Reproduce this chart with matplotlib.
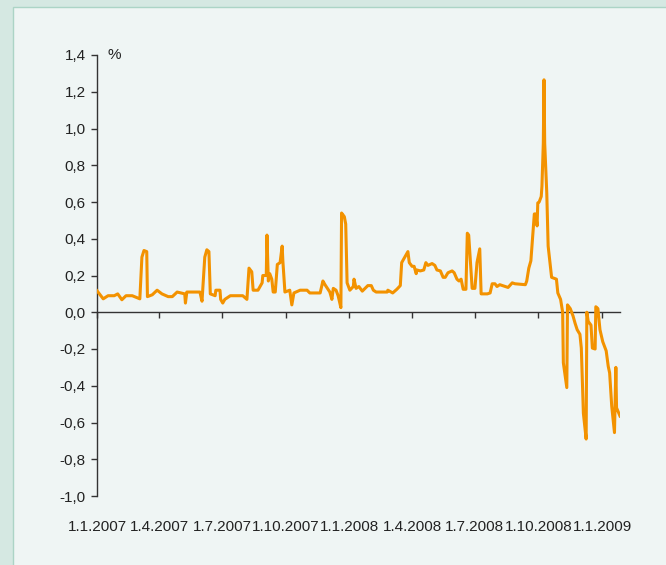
import matplotlib
matplotlib.use("Agg")
import matplotlib.pyplot as plt
from matplotlib.patches import Rectangle
import pandas as pd

plt.rcParams['font.family'] = ['Liberation Sans', 'DejaVu Sans']

# Data: days since 1.1.2007 and value in %
days = [0, 9, 16, 25, 30, 36, 42, 51, 62, 65, 68, 72, 73, 80, 87, 94, 103, 109, 116,
        127, 128, 130, 149, 152, 156, 159, 162, 164, 171, 172, 178, 179, 182, 185, 193,
        211, 217, 220, 224, 226, 233, 239, 240, 245, 246, 248, 250, 253, 255, 258, 261,
        265, 268, 269, 272, 279, 282, 285, 294, 304, 308, 323, 327, 330, 337, 340, 342,
        346, 349, 353, 354, 358, 360, 362, 366, 371, 372, 375, 379, 384, 388, 392, 397,
        400, 404, 420, 421, 428, 434, 439, 441, 444, 450, 452, 456, 459, 462, 463, 468,
        473, 476, 479, 485, 489, 492, 497, 501, 504, 508, 514, 517, 521, 524, 527, 530,
        534, 536, 538, 543, 547, 550, 554, 556, 565, 569, 572, 576, 579, 583, 595, 601,
        605, 620, 622, 625, 628, 631, 633, 635, 637, 638, 640, 643, 644, 646, 647, 648,
        651, 653, 656, 658, 665, 667, 671, 674, 675, 680, 681, 685, 689, 692, 695, 699,
        701, 704, 708, 709, 711, 715, 717, 721, 722, 725, 728, 732, 737, 740, 742, 745,
        749, 751, 752, 757]
values = [0.117, 0.073, 0.09, 0.09, 0.10, 0.068, 0.09, 0.09, 0.073, 0.30, 0.336, 0.33,
          0.085, 0.095, 0.12, 0.10, 0.085, 0.085, 0.11,
          0.10, 0.05, 0.11, 0.11, 0.06, 0.30, 0.34, 0.33, 0.10, 0.09, 0.12, 0.12, 0.07,
          0.05, 0.07, 0.09,
          0.09, 0.07, 0.24, 0.22, 0.12, 0.12, 0.16, 0.20, 0.20, 0.42, 0.17, 0.21, 0.18,
          0.11, 0.11, 0.26,
          0.27, 0.36, 0.28, 0.11, 0.12, 0.04, 0.105, 0.12, 0.12, 0.105, 0.105, 0.17, 0.15,
          0.11, 0.07, 0.13,
          0.12, 0.09, 0.025, 0.54, 0.52, 0.48, 0.16, 0.12, 0.14, 0.18, 0.13, 0.14, 0.115,
          0.13, 0.145, 0.145,
          0.12, 0.11, 0.11, 0.12, 0.105, 0.125, 0.145, 0.27, 0.29, 0.33, 0.27, 0.25, 0.25,
          0.21, 0.23, 0.225,
          0.23, 0.27, 0.255, 0.265, 0.255, 0.23, 0.225, 0.19, 0.19, 0.215, 0.225, 0.215,
          0.18, 0.17, 0.18, 0.125,
          0.125, 0.43, 0.42, 0.13, 0.13, 0.27, 0.345, 0.10, 0.10, 0.105, 0.155, 0.155,
          0.14, 0.15, 0.135, 0.16,
          0.155, 0.15, 0.17, 0.24, 0.28, 0.43, 0.535, 0.535, 0.47, 0.595, 0.60, 0.63,
          0.685, 0.92, 1.265, 0.92,
          0.65, 0.36, 0.26, 0.19, 0.18, 0.105, 0.07, 0.0, -0.275, -0.41, 0.04, 0.02,
          -0.02, -0.06, -0.095, -0.12,
          -0.195, -0.55, -0.69, 0.0, -0.05, -0.07, -0.195, -0.20, 0.03, 0.02, -0.095,
          -0.16, -0.21, -0.295, -0.33, -0.51,
          -0.655, -0.30, -0.52, -0.565]

tick_dates = ['2007-01-01', '2007-04-01', '2007-07-01', '2007-10-01', '2008-01-01',
              '2008-04-01', '2008-07-01', '2008-10-01', '2009-01-01']
tick_labels = ['1.1.2007', '1.4.2007', '1.7.2007', '1.10.2007', '1.1.2008',
               '1.4.2008', '1.7.2008', '1.10.2008', '1.1.2009']
y_ticks = [1.4, 1.2, 1.0, 0.8, 0.6, 0.4, 0.2, 0.0, -0.2, -0.4, -0.6, -0.8, -1.0]

start = pd.Timestamp('2007-01-01')
dates = [start + pd.Timedelta(days=d) for d in days]

fig = plt.figure(figsize=(6.66, 5.65), dpi=100)
fig.patch.set_facecolor('#d5e8e2')
panel = Rectangle((13/666, -0.05), 1.1, 1.05 - 7/565, transform=fig.transFigure,
                  facecolor='#eff5f4', edgecolor='#acd4c6', linewidth=1.0, zorder=-10)
fig.add_artist(panel)

ax = fig.add_axes([97/666, 1 - 496/565, (620 - 97)/666, (496 - 55)/565])
ax.set_zorder(5)
ax.set_facecolor('none')
ax.plot(dates, values, color='#f39200', linewidth=2.2, solid_joinstyle='round', zorder=3)

ax.set_ylim(-1.0, 1.4)
ax.set_xlim(start, start + pd.Timedelta(days=757))
ax.set_yticks(y_ticks)
ax.set_yticklabels([f"{v:.1f}".replace('.', ',') for v in y_ticks])

for s in ['top', 'right']:
    ax.spines[s].set_visible(False)
ax.spines['bottom'].set_position(('data', 0))
ax.spines['bottom'].set_color('#333333')
ax.spines['left'].set_color('#333333')
ax.spines['bottom'].set_linewidth(1.0)
ax.spines['left'].set_linewidth(1.0)

tds = [pd.Timestamp(t) for t in tick_dates]
ax.set_xticks(tds)
ax.set_xticklabels([])
ax.tick_params(axis='x', direction='out', length=4, width=1, color='#333333')
ax.tick_params(axis='y', direction='out', length=4, width=1, color='#333333',
               labelsize=11, labelcolor='#222222', pad=4)

sec = ax.secondary_xaxis('bottom')
sec.set_xticks(tds)
sec.set_xticklabels(tick_labels)
sec.tick_params(length=0, pad=17, labelsize=11, labelcolor='#222222')
sec.spines['bottom'].set_visible(False)

ax.text(108/666, 1 - 55/565, '%', transform=fig.transFigure, fontsize=11,
        color='#222222', ha='left', va='center')

fig.savefig('out.png', dpi=100, facecolor=fig.get_facecolor())
